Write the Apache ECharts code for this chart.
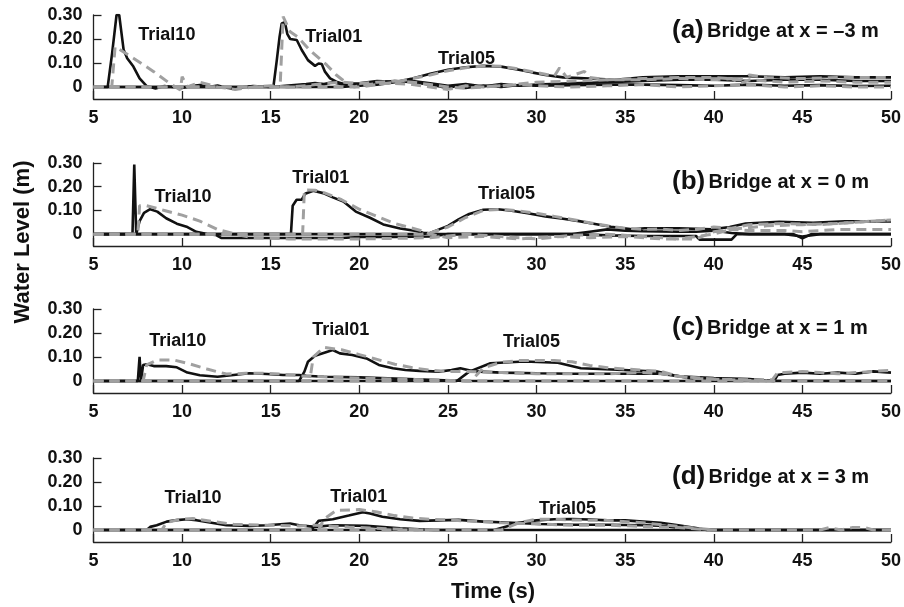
<!DOCTYPE html>
<html>
<head>
<meta charset="utf-8">
<script src="https://cdn.jsdelivr.net/npm/echarts@6/dist/echarts.min.js"></script>
<style>
  html, body { margin: 0; padding: 0; background: #fff; }
  #main { width: 904px; height: 607px; }
</style>
</head>
<body>
<div id="main"></div>
<script>
// measured (black) and simulated (gray dashed) water level, [time s, level m]
// panel (a) x = -3 m
var a10m = [[5,0],[5.8,0],[6.05,0.14],[6.3,0.3],[6.45,0.3],[6.7,0.155],[6.9,0.12],[7.25,0.085],[7.6,0.036],[8,0.004],[8.5,-0.006],[9,0.004],[9.5,0],[10,-0.004],[10.5,0.004],[11,0.008],[11.5,0],[12,0.006],[12.5,-0.003],[13,-0.008],[13.5,0],[14,0.004],[15,0],[16,0.006],[17,0.012],[17.5,0.016],[18,0.012],[18.5,0.02],[19,0.012],[20,0.015],[21,0.025],[22,0.022],[23,0.025],[24,0.015],[25,0.005],[26,0.012],[27,0.002],[28,0.012],[29,0.005],[30,0.01],[32,0.015],[34,0.02],[36,0.025],[38,0.03],[40,0.03],[42,0.025],[44,0.03],[46,0.03],[48,0.025],[50,0.025]];
var a10s = [[5,0],[6.03,0],[6.22,0.168],[7.25,0.12],[8.4,0.064],[9.3,0.015],[9.9,-0.012],[10,0.043],[10.3,0],[11,0.02],[12,0],[13,-0.01],[14,0],[15,0.005],[16,0],[17,0.005],[18,0.015],[19,0.02],[20,0.015],[21,0.02],[22,0.025],[23,0.02],[24,0.01],[25,0],[26,-0.005],[28,0.005],[30,0.02],[32,0.025],[34,0.03],[36,0.03],[38,0.035],[40,0.03],[41,0.035],[41.5,0.015],[42,0.03],[44,0.02],[46,0.025],[48,0.02],[50,0.02]];
var a01m = [[5,0],[15.15,0],[15.34,0.11],[15.5,0.21],[15.62,0.265],[15.8,0.27],[15.94,0.22],[16.1,0.2],[16.47,0.196],[16.75,0.154],[17.1,0.112],[17.5,0.088],[17.7,0.098],[17.88,0.096],[18.06,0.064],[18.35,0.036],[18.7,0.022],[19.3,0.008],[20,0.005],[20.5,0.02],[21,0.015],[22,0.025],[23,0.02],[24,0.01],[25,-0.005],[25.5,0.005],[26,-0.004],[27,0.006],[28,0],[29,0.008],[30,0.005],[32,0.008],[34,0.01],[36,0.01],[38,0.008],[40,0.005],[42,0.01],[44,0.005],[46,0.008],[48,0.004],[50,0.005]];
var a01s = [[5,0],[15.53,0],[15.7,0.293],[16.1,0.23],[16.5,0.21],[17.2,0.154],[18.16,0.092],[18.7,0.05],[19.3,0.015],[19.7,0],[20,0.005],[21,0.015],[22,0.015],[23,0.01],[24,0],[25,-0.01],[26,0.005],[27,0],[28,0.005],[29,0.01],[30,0.005],[32,0],[34,0.005],[36,0.01],[38,0],[40,0.005],[42,0.01],[44,0],[46,0.005],[48,0],[50,0]];
var a05m = [[5,0],[19,0],[20,0.005],[21,0.01],[22,0.02],[23,0.035],[24,0.055],[25,0.072],[26,0.082],[27,0.088],[28,0.085],[29,0.072],[29.8,0.06],[30.5,0.05],[31.5,0.04],[33,0.035],[34.5,0.03],[36,0.04],[38,0.045],[40,0.045],[42,0.045],[44,0.04],[46,0.045],[48,0.04],[50,0.04]];
var a05s = [[5,0],[20,0],[22,0.02],[24,0.05],[25,0.068],[26,0.08],[27,0.088],[28,0.086],[29,0.075],[30,0.06],[31,0.045],[31.3,0.08],[31.7,0.04],[32.7,0.065],[33,0.04],[34,0.03],[36,0.035],[38,0.04],[40,0.04],[41.5,0.03],[42,0.05],[43,0.04],[45,0.035],[47,0.04],[50,0.04]];
// panel (b) x = 0 m
var b10m = [[5,0],[7.2,0],[7.3,0.294],[7.41,0],[7.6,0.055],[7.85,0.09],[8.2,0.105],[8.6,0.095],[9.1,0.067],[9.7,0.044],[10.3,0.03],[10.8,0.01],[11.4,0],[11.9,-0.003],[12.2,-0.016],[19,-0.016],[20,-0.012],[22,-0.012],[24,-0.01],[25,0],[28,0],[30,0],[32,0],[33,0.01],[34,0.02],[35,0.015],[36,0.012],[38,0.01],[39,0.01],[40,0.015],[41,0.005],[42,0],[44,0],[45,-0.01],[46,0],[50,0]];
var b10s = [[5,0],[7.5,0],[7.6,0.12],[8,0.12],[9,0.1],[10,0.08],[11,0.055],[12,0.02],[13,0],[14,-0.015],[16,-0.02],[18,-0.02],[20,-0.02],[22,-0.018],[24,-0.015],[26,0],[28,-0.01],[30,-0.02],[32,-0.005],[34,0],[36,-0.01],[38,-0.02],[40,0],[41,0.02],[43,0.035],[45,0.04],[47,0.045],[49,0.055],[50,0.06]];
var b01m = [[5,0],[16.14,0],[16.24,0.12],[16.46,0.145],[16.75,0.145],[16.94,0.17],[17.4,0.183],[17.96,0.173],[18.5,0.155],[19.1,0.138],[19.8,0.095],[20.6,0.069],[21.35,0.041],[22.3,0.024],[23.2,0.013],[23.6,0.006],[24.5,0],[28,0],[32,0],[34,-0.005],[36,-0.008],[39,-0.008],[39.2,-0.023],[41,-0.023],[41.3,0],[44.5,0],[45,-0.018],[45.5,0],[50,0]];
var b01s = [[5,0],[16.8,0],[16.9,0.186],[17.5,0.185],[18,0.175],[19,0.145],[20,0.105],[21,0.075],[22,0.045],[23,0.025],[23.5,0.015],[24,0],[25,-0.015],[27,-0.01],[29,-0.02],[31,-0.01],[33,-0.015],[35,-0.01],[37,-0.02],[39,-0.02],[40,0.01],[41,0.02],[42,0.015],[44,0.015],[45,0.01],[47,0.02],[50,0.02]];
var b05m = [[5,0],[23.5,0],[24,0.005],[24.5,0.02],[25,0.035],[25.6,0.062],[26.2,0.085],[27,0.103],[27.8,0.105],[28.5,0.1],[29.5,0.088],[30.5,0.075],[31.5,0.065],[32.4,0.055],[33.3,0.043],[34.2,0.031],[35.4,0.02],[36.1,0.025],[38,0.025],[39.9,0.02],[40.9,0.03],[41.8,0.045],[43.7,0.052],[45.6,0.048],[47.4,0.054],[50,0.054]];
var b05s = [[5,0],[23.5,0],[24,0.005],[25,0.03],[26,0.07],[27,0.1],[28,0.105],[29,0.098],[30,0.088],[31,0.075],[32,0.062],[33,0.048],[34,0.035],[35,0.025],[36,0.02],[37,0.022],[38,0.015],[39,0.02],[40,0.03],[41,0.025],[42,0.04],[44,0.045],[46,0.04],[48,0.05],[50,0.06]];
// panel (c) x = 1 m
var c10m = [[5,0],[7.5,0],[7.6,0.101],[7.68,0],[7.8,0.067],[8,0.07],[8.4,0.062],[9.1,0.062],[9.7,0.057],[10.3,0.035],[11,0.024],[12,0.018],[12.9,0.025],[13.8,0.032],[14.8,0.029],[15.7,0.025],[16.6,0.025],[17,0.022],[18,0.018],[20,0.015],[22,0.01],[24,0.005],[26,0],[50,0]];
var c10s = [[5,0],[7.8,0],[8,0.067],[8.6,0.088],[9.5,0.088],[10.3,0.074],[11.4,0.05],[12.5,0.029],[13.6,0.032],[14.8,0.032],[16.3,0.025],[16.6,0.021],[19,0.015],[21,0.01],[24,0.005],[26,0],[50,0]];
var c01m = [[5,0],[16.6,0],[16.9,0.039],[17.1,0.08],[17.5,0.105],[18.2,0.122],[18.5,0.129],[18.9,0.115],[19.6,0.108],[20.4,0.094],[21.1,0.067],[21.9,0.053],[22.6,0.046],[23.4,0.042],[24.5,0.039],[25.2,0.046],[25.7,0.053],[26.5,0.04],[28,0.035],[30,0.032],[32,0.03],[34,0.03],[36,0.03],[37,0.03],[38,0.02],[40,0.012],[42,0.008],[43.4,0],[43.6,0.025],[44,0.03],[45,0.035],[46,0.03],[47,0.035],[48,0.03],[49,0.04],[50,0.035]];
var c01s = [[5,0],[17.2,0],[17.4,0.1],[18,0.14],[19,0.13],[20,0.11],[21,0.09],[22,0.07],[23,0.055],[24,0.045],[25,0.04],[26,0.04],[28,0.035],[30,0.03],[32,0.03],[34,0.03],[36,0.035],[37,0.03],[38,0.02],[40,0.008],[42,0.005],[43.3,0.005],[43.6,0.035],[44,0.035],[45,0.04],[46,0.035],[47,0.03],[48,0.035],[50,0.045]];
var c05m = [[5,0],[25.5,0],[26.2,0.039],[27.4,0.074],[29.3,0.081],[31.2,0.076],[32.5,0.053],[34.9,0.046],[36.8,0.039],[37.7,0.025],[38.7,0.011],[39.6,0.007],[41.5,0.007],[43.4,0.001],[50,0]];
var c05s = [[5,0],[26.3,0],[27,0.055],[28,0.078],[29,0.085],[31,0.085],[32,0.08],[33,0.065],[34,0.055],[35,0.05],[36,0.045],[37,0.04],[38,0.02],[39,0.01],[41,0.005],[43,0]];
// panel (d) x = 3 m
var d10m = [[5,0],[8,0],[8.2,0.013],[8.57,0.02],[9.13,0.035],[9.7,0.041],[10.26,0.045],[10.8,0.041],[11.57,0.031],[12.5,0.02],[13.8,0.017],[14.8,0.02],[16.1,0.027],[16.6,0.02],[17.5,0.013],[18.5,0.02],[20.4,0.017],[22.3,0.007],[24.2,0],[50,0]];
var d10s = [[5,0],[8.85,0],[9.13,0.031],[9.9,0.045],[10.6,0.048],[11.75,0.035],[12.9,0.024],[14.8,0.02],[16.6,0.017],[17.5,0.02],[19.4,0.013],[22.3,0.003],[24,0]];
var d01m = [[5,0],[17.3,0],[17.7,0.038],[18.5,0.045],[19.4,0.06],[20.2,0.074],[20.6,0.069],[21.3,0.055],[22.3,0.045],[23.4,0.038],[24.5,0.04],[25.6,0.042],[27,0.035],[28.3,0.031],[30.2,0.025],[32,0.022],[34,0.022],[36,0.02],[37,0.018],[38,0.01],[39,0.004],[40,0],[50,0]];
var d01s = [[5,0],[17.7,0],[18,0.045],[18.7,0.082],[20,0.085],[21,0.075],[22,0.06],[23,0.05],[24,0.045],[25,0.042],[26,0.038],[28,0.03],[30,0.025],[32,0.02],[34,0.02],[36,0.015],[38,0.01],[40,0],[46,0],[46.5,0.01],[47.2,0],[47.8,0.01],[48.5,0.01],[49,0],[50,0]];
var d05m = [[5,0],[27.6,0],[28.3,0.015],[29,0.03],[30,0.04],[31,0.045],[32,0.046],[33,0.044],[34,0.04],[35,0.04],[36,0.035],[37,0.03],[38,0.02],[39,0.008],[39.6,0],[50,0]];
var d05s = [[5,0],[28,0],[29,0.03],[30,0.045],[31,0.045],[32,0.042],[34,0.04],[36,0.03],[38,0.015],[40,0]];

var trialNames = ['Trial10', 'Trial01', 'Trial05'];
var panelTags = ['(a)', '(b)', '(c)', '(d)'];
var panelTitles = ['Bridge at x = \u20133 m', 'Bridge at x = 0 m', 'Bridge at x = 1 m', 'Bridge at x = 3 m'];
var yTicks = [0, 0.1, 0.2, 0.3];
var measured = [[a10m, a01m, a05m], [b10m, b01m, b05m], [c10m, c01m, c05m], [d10m, d01m, d05m]];
var simulated = [[a10s, a01s, a05s], [b10s, b01s, b05s], [c10s, c01s, c05s], [d10s, d01s, d05s]];
// where the trial names sit, in data units
var labelAt = [
    [[9.14, 0.217], [18.56, 0.208], [26.05, 0.117]],
    [[10.05, 0.157], [17.82, 0.238], [28.31, 0.170]],
    [[9.76, 0.167], [18.95, 0.2125], [29.72, 0.1625]],
    [[10.61, 0.132], [19.97, 0.136], [31.75, 0.089]]
];

var FONT = '"Liberation Sans", Arial, Helvetica, sans-serif';
var gridTop = [15, 163, 309, 458];
var gridH = [84, 83, 84, 84];

var grids = [], xAxes = [], yAxes = [], series = [], graphics = [];

for (var i = 0; i < 4; i++) {
    grids.push({left: 93.5, width: 798.5, top: gridTop[i], height: gridH[i]});
    xAxes.push({
        type: 'value', gridIndex: i, min: 5, max: 50, interval: 5,
        axisLine: {onZero: false, lineStyle: {color: '#222', width: 1.3}},
        axisTick: {inside: true, length: 8, lineStyle: {color: '#222', width: 1.3}},
        axisLabel: {margin: 10, color: '#111', fontSize: 18, fontWeight: 'bold', fontFamily: FONT},
        splitLine: {show: false}
    });
    yAxes.push({
        type: 'value', gridIndex: i, min: -0.05, max: 0.3,
        axisLine: {show: true, lineStyle: {color: '#222', width: 1.3}},
        axisTick: {show: true, inside: true, length: 8, customValues: yTicks, lineStyle: {color: '#222', width: 1.3}},
        axisLabel: {
            customValues: yTicks, margin: 11, color: '#111', fontSize: 18, fontWeight: 'bold', fontFamily: FONT,
            formatter: function (v) { return Math.abs(v) < 1e-9 ? '0' : v.toFixed(2); }
        },
        splitLine: {show: false}
    });
    for (var k = 0; k < 3; k++) {
        series.push({
            type: 'line', xAxisIndex: i, yAxisIndex: i, data: measured[i][k],
            showSymbol: false, clip: true, z: 2,
            lineStyle: {color: '#111', width: 2.6}
        });
    }
    for (var k = 0; k < 3; k++) {
        series.push({
            type: 'line', xAxisIndex: i, yAxisIndex: i, data: simulated[i][k],
            showSymbol: false, clip: true, z: 3,
            lineStyle: {color: '#a0a0a0', width: 3, type: [10, 6]}
        });
    }
    series.push({
        type: 'scatter', xAxisIndex: i, yAxisIndex: i, symbolSize: 0, z: 5,
        itemStyle: {opacity: 1},
        data: labelAt[i].map(function (p, j) { return {value: p, name: trialNames[j]}; }),
        label: {
            show: true, position: 'inside', formatter: '{b}', opacity: 1,
            color: '#111', fontSize: 18, fontWeight: 'bold', fontFamily: FONT
        }
    });
    graphics.push({
        type: 'text', left: 672, top: gridTop[i] + (i === 0 ? 3 : 6),
        style: {
            text: '{p|' + panelTags[i] + '} {t|' + panelTitles[i] + '}',
            rich: {
                p: {fontSize: 26, fontWeight: 'bold', fontFamily: FONT, fill: '#111'},
                t: {fontSize: 20, fontWeight: 'bold', fontFamily: FONT, fill: '#111'}
            }
        }
    });
}

graphics.push({
    type: 'text', x: 23, y: 242, rotation: Math.PI / 2,
    style: {text: 'Water Level (m)', fill: '#111', font: 'bold 22px ' + FONT, align: 'center', verticalAlign: 'middle'}
});
graphics.push({
    type: 'text', x: 493, y: 592,
    style: {text: 'Time (s)', fill: '#111', font: 'bold 22px ' + FONT, align: 'center', verticalAlign: 'middle'}
});

var chart = echarts.init(document.getElementById('main'));
chart.setOption({
    animation: false,
    backgroundColor: '#fff',
    grid: grids,
    xAxis: xAxes,
    yAxis: yAxes,
    series: series,
    graphic: graphics
});
</script>
</body>
</html>
